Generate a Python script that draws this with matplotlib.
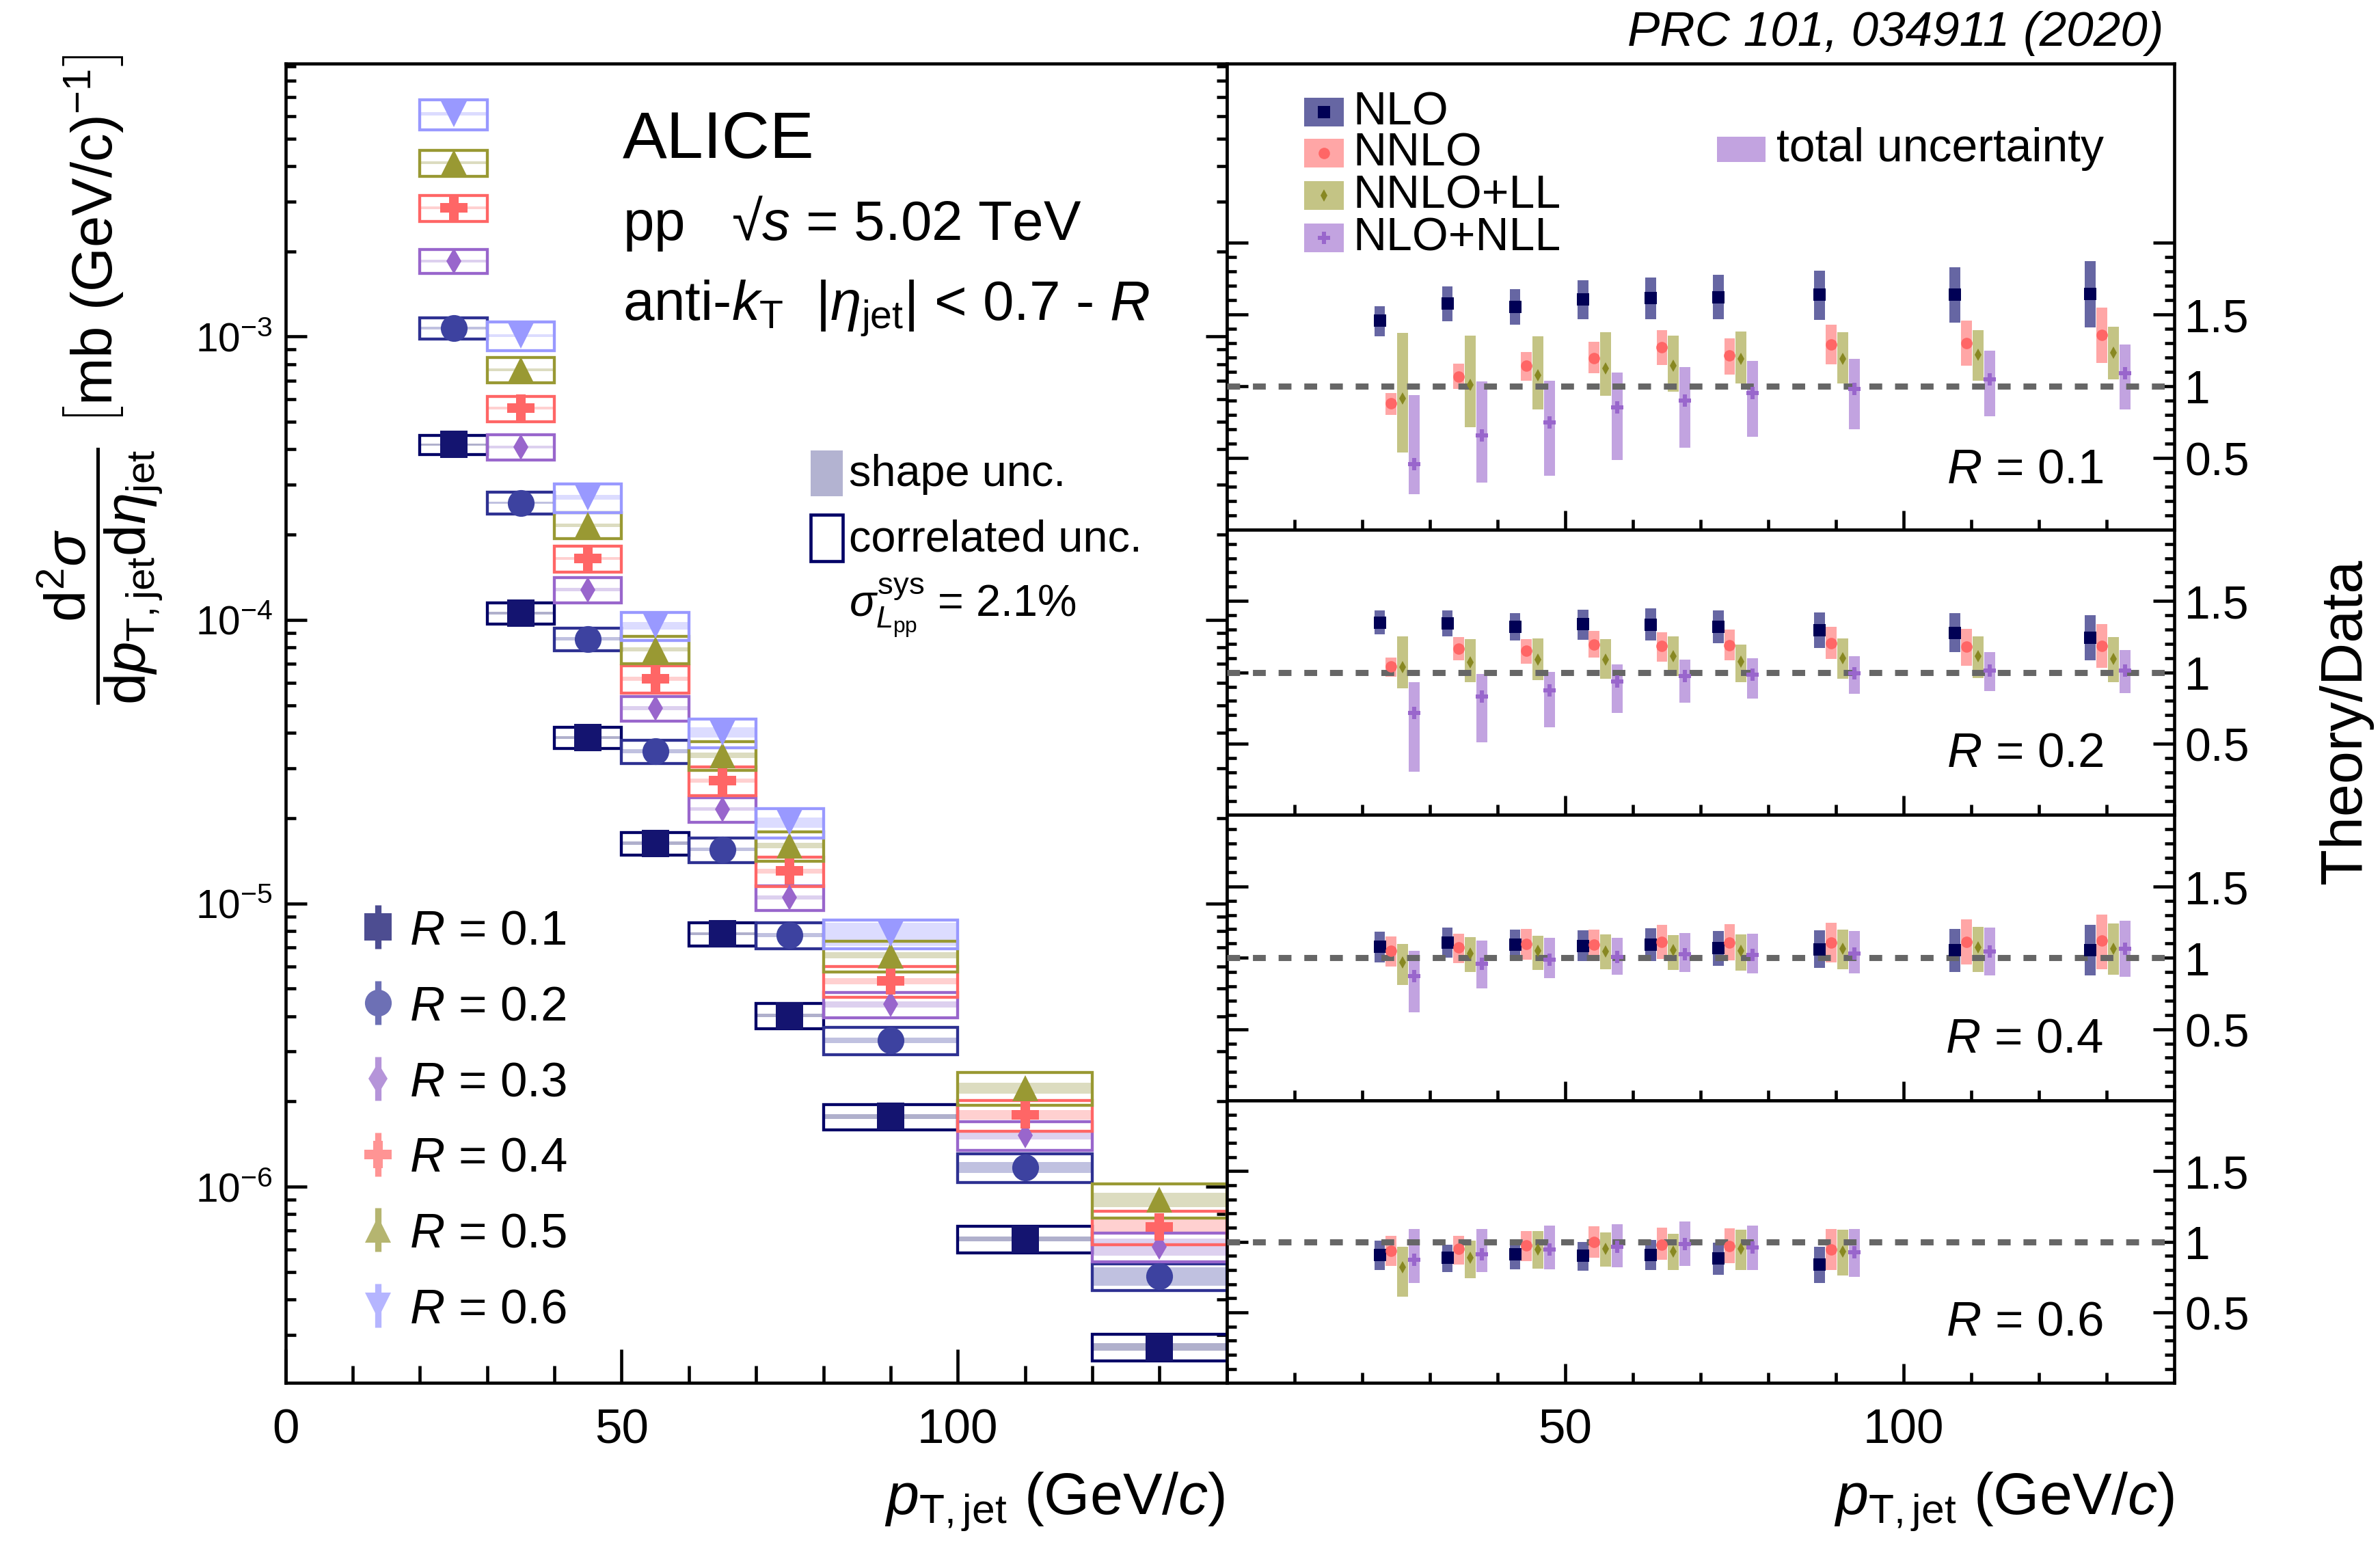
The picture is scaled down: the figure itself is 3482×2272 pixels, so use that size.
import numpy as np
import matplotlib.pyplot as plt
from matplotlib.patches import Rectangle
from matplotlib.lines import Line2D
from matplotlib.ticker import MultipleLocator, LogLocator, NullFormatter

plt.rcParams['font.family'] = ['Liberation Sans', 'DejaVu Sans']
plt.rcParams['mathtext.fontset'] = 'custom'
plt.rcParams['mathtext.rm'] = 'Liberation Sans'
plt.rcParams['mathtext.it'] = 'Liberation Sans:italic'
plt.rcParams['mathtext.bf'] = 'Liberation Sans:bold'
plt.rcParams['mathtext.sf'] = 'Liberation Sans'

# pT,jet bins (GeV/c)
bin_lo = np.array([20, 30, 40, 50, 60, 70, 80, 100, 120])
bin_hi = np.array([30, 40, 50, 60, 70, 80, 100, 120, 140])

# cross sections, mb (GeV/c)^-1, as drawn
xsec_r01 = [4.16e-4, 1.057e-4, 3.85e-5, 1.63e-5, 7.81e-6, 4.02e-6, 1.77e-6, 6.54e-7, 2.72e-7]
xsec_r02 = [1.07e-3, 2.59e-4, 8.58e-5, 3.44e-5, 1.55e-5, 7.73e-6, 3.29e-6, 1.17e-6, 4.83e-7]
xsec_r03 = [1.85e-3, 4.08e-4, 1.28e-4, 4.89e-5, 2.15e-5, 1.05e-5, 4.40e-6, 1.52e-6, 6.14e-7]
xsec_r04 = [2.85e-3, 5.59e-4, 1.65e-4, 6.20e-5, 2.71e-5, 1.30e-5, 5.32e-6, 1.79e-6, 7.22e-7]
xsec_r05 = [4.11e-3, 7.65e-4, 2.16e-4, 7.88e-5, 3.33e-5, 1.60e-5, 6.55e-6, 2.23e-6, 9.0e-7]
xsec_r06 = [6.11e-3, 1.01e-3, 2.71e-4, 9.54e-5, 4.01e-5, 1.93e-5, 7.81e-6]

# relative correlated uncertainty (open boxes)
corr_r01 = [0.079, 0.085, 0.088, 0.09, 0.095, 0.10, 0.104, 0.107, 0.107]
corr_r02 = [0.086, 0.088, 0.09, 0.095, 0.10, 0.105, 0.112, 0.117, 0.109]
corr_r03 = [0.099, 0.102, 0.10, 0.10, 0.10, 0.10, 0.104, 0.117, 0.115]
corr_r04 = [0.104, 0.102, 0.105, 0.11, 0.115, 0.12, 0.125, 0.123, 0.137]
corr_r05 = [0.104, 0.104, 0.105, 0.11, 0.115, 0.12, 0.125, 0.133, 0.14]
corr_r06 = [0.12, 0.116, 0.115, 0.115, 0.115, 0.118, 0.115]

# relative shape uncertainty (filled bands)
shape_r01 = [0.01, 0.01, 0.01, 0.012, 0.012, 0.015, 0.018, 0.02, 0.03]
shape_r02 = [0.01, 0.01, 0.012, 0.015, 0.015, 0.018, 0.021, 0.044, 0.073]
shape_r03 = [0.01, 0.01, 0.012, 0.015, 0.015, 0.018, 0.025, 0.036, 0.069]
shape_r04 = [0.01, 0.01, 0.012, 0.015, 0.015, 0.02, 0.025, 0.039, 0.061]
shape_r05 = [0.012, 0.012, 0.015, 0.015, 0.02, 0.02, 0.026, 0.043, 0.058]
shape_r06 = [0.012, 0.012, 0.018, 0.032, 0.04, 0.04, 0.093]

r_labels = ['0.1', '0.2', '0.3', '0.4', '0.5', '0.6']

# theory / data ratios (central, lower, upper)
nlo_r1 = [1.456, 1.579, 1.554, 1.605, 1.615, 1.622, 1.637, 1.639, 1.643]
nlo_r1_lo = [1.349, 1.451, 1.430, 1.468, 1.468, 1.468, 1.460, 1.441, 1.409]
nlo_r1_hi = [1.558, 1.694, 1.679, 1.741, 1.756, 1.779, 1.805, 1.830, 1.871]
nnlo_r1 = [0.881, 1.068, 1.145, 1.196, 1.270, 1.213, 1.290, 1.300, 1.356]
nnlo_r1_lo = [0.802, 0.979, 1.040, 1.089, 1.147, 1.083, 1.153, 1.143, 1.160]
nnlo_r1_hi = [0.951, 1.155, 1.238, 1.309, 1.390, 1.336, 1.428, 1.456, 1.547]
nnll_r1 = [0.915, 1.009, 1.075, 1.126, 1.143, 1.189, 1.189, 1.219, 1.232]
nnll_r1_lo = [0.536, 0.713, 0.840, 0.932, 0.962, 1.021, 1.021, 1.038, 1.047]
nnll_r1_hi = [1.370, 1.351, 1.349, 1.377, 1.351, 1.381, 1.377, 1.392, 1.417]
nlonll_r1 = [0.455, 0.657, 0.749, 0.853, 0.902, 0.951, 0.983, 1.047, 1.089]
nlonll_r1_lo = [0.248, 0.327, 0.376, 0.487, 0.570, 0.647, 0.702, 0.789, 0.838]
nlonll_r1_hi = [0.936, 1.032, 1.036, 1.094, 1.132, 1.175, 1.192, 1.247, 1.290]

nlo_r2 = [1.349, 1.341, 1.317, 1.337, 1.333, 1.317, 1.294, 1.278, 1.243]
nlo_r2_lo = [1.267, 1.254, 1.225, 1.230, 1.225, 1.202, 1.173, 1.140, 1.083]
nlo_r2_hi = [1.433, 1.433, 1.414, 1.438, 1.448, 1.433, 1.419, 1.414, 1.400]
nnlo_r2 = [1.043, 1.167, 1.151, 1.195, 1.183, 1.190, 1.206, 1.179, 1.187]
nnlo_r2_lo = [0.968, 1.086, 1.062, 1.102, 1.076, 1.086, 1.092, 1.048, 1.033]
nnlo_r2_hi = [1.105, 1.248, 1.233, 1.290, 1.281, 1.300, 1.319, 1.305, 1.338]
nnll_r2 = [1.035, 1.068, 1.087, 1.087, 1.114, 1.075, 1.100, 1.111, 1.095]
nnll_r2_lo = [0.890, 0.929, 0.948, 0.957, 0.976, 0.933, 0.957, 0.962, 0.933]
nnll_r2_hi = [1.252, 1.233, 1.238, 1.233, 1.252, 1.195, 1.238, 1.252, 1.248]
nlonll_r2 = [0.714, 0.833, 0.876, 0.935, 0.976, 0.984, 0.995, 1.013, 1.013]
nlonll_r2_lo = [0.302, 0.510, 0.614, 0.714, 0.786, 0.814, 0.848, 0.871, 0.857]
nlonll_r2_hi = [0.933, 0.990, 1.005, 1.057, 1.090, 1.100, 1.114, 1.143, 1.157]

nlo_r4 = [1.076, 1.108, 1.092, 1.084, 1.090, 1.068, 1.060, 1.052, 1.055]
nlo_r4_lo = [0.970, 1.003, 1.003, 0.975, 0.975, 0.946, 0.927, 0.903, 0.875]
nlo_r4_hi = [1.184, 1.212, 1.198, 1.193, 1.207, 1.188, 1.193, 1.203, 1.231]
nnlo_r4 = [1.047, 1.071, 1.098, 1.092, 1.111, 1.106, 1.106, 1.111, 1.119]
nnlo_r4_lo = [0.941, 0.965, 0.989, 0.975, 0.994, 0.984, 0.970, 0.951, 0.922]
nnlo_r4_hi = [1.150, 1.169, 1.203, 1.198, 1.231, 1.236, 1.245, 1.269, 1.302]
nnll_r4 = [0.968, 1.032, 1.047, 1.044, 1.052, 1.051, 1.063, 1.071, 1.063]
nnll_r4_lo = [0.809, 0.899, 0.913, 0.922, 0.913, 0.908, 0.918, 0.903, 0.880]
nnll_r4_hi = [1.098, 1.146, 1.155, 1.165, 1.160, 1.165, 1.198, 1.217, 1.241]
nlonll_r4 = [0.870, 0.960, 0.987, 1.008, 1.024, 1.019, 1.032, 1.043, 1.063]
nlonll_r4_lo = [0.619, 0.785, 0.856, 0.880, 0.903, 0.889, 0.889, 0.875, 0.866]
nlonll_r4_hi = [1.051, 1.122, 1.141, 1.141, 1.174, 1.169, 1.188, 1.212, 1.259]

nlo_r6 = [0.905, 0.886, 0.910, 0.900, 0.905, 0.881, 0.837]
nlo_r6_lo = [0.802, 0.787, 0.806, 0.797, 0.802, 0.768, 0.706]
nlo_r6_hi = [1.006, 0.978, 1.016, 0.997, 1.011, 0.992, 0.963]
nnlo_r6 = [0.933, 0.952, 0.973, 1.000, 0.979, 0.968, 0.944]
nnlo_r6_lo = [0.830, 0.840, 0.863, 0.887, 0.873, 0.849, 0.802]
nnlo_r6_hi = [1.044, 1.044, 1.078, 1.111, 1.102, 1.097, 1.092]
nnll_r6 = [0.821, 0.886, 0.944, 0.949, 0.929, 0.948, 0.929]
nnll_r6_lo = [0.611, 0.740, 0.811, 0.825, 0.802, 0.802, 0.763]
nnll_r6_hi = [0.963, 1.006, 1.078, 1.068, 1.054, 1.083, 1.087]
nlonll_r6 = [0.873, 0.910, 0.944, 0.965, 0.984, 0.960, 0.924]
nlonll_r6_lo = [0.706, 0.783, 0.806, 0.821, 0.830, 0.802, 0.749]
nlonll_r6_hi = [1.092, 1.092, 1.116, 1.125, 1.144, 1.116, 1.092]

theory_names = ['NLO', 'NNLO', 'NNLO+LL', 'NLO+NLL']

# ---------------- styles ----------------
mk_cols = ['#141470', '#3d42a0', '#9966cc', '#ff6666', '#999933', '#9999ff']
box_cols = ['#000066', '#2e3192', '#9966cc', '#ff6666', '#999933', '#9999ff']
shape_cols = ['#b0b0cc', '#c0c1e0', '#ddd0ef', '#ffd0d0', '#dcdcc0', '#dcdcff']
leg_cols = ['#4d4d91', '#6d70b5', '#b594d9', '#ff9494', '#b5b570', '#b5b5ff']
mks = ['s', 'o', 'd', 'P', '^', 'v']
mss = [12.8, 12.7, 8.6, 13, 12, 12]
leg_mss = [12.8, 12.7, 10.5, 13, 12, 12]

band_cols = ['#6666a3', '#ffa6a6', '#c4c485', '#c2a3e0']
th_mk_cols = ['#000055', '#ff6666', '#888822', '#9966cc']
th_mks = ['s', 'o', 'd', 'P']
th_mss = [5.8, 5.4, 4.2, 6.0]
th_off = [-2.4, -0.7, 1.0, 2.7]
band_w = 1.6

W, H = 1568.0, 1023.0
fig = plt.figure(figsize=(15.68, 10.23), dpi=222.13)


def fx(px):
    return px / W


def fy(py):
    return 1 - py / H


# ---------------- left panel ----------------
axL = fig.add_axes([fx(188), fy(911), 620 / W, 869 / H])
xsecs = [xsec_r01, xsec_r02, xsec_r03, xsec_r04, xsec_r05, xsec_r06]
corrs = [corr_r01, corr_r02, corr_r03, corr_r04, corr_r05, corr_r06]
shapes = [shape_r01, shape_r02, shape_r03, shape_r04, shape_r05, shape_r06]

for i in range(6):
    y = np.array(xsecs[i])
    n = len(y)
    cen = (bin_lo[:n] + bin_hi[:n]) / 2
    wid = bin_hi[:n] - bin_lo[:n]
    c = np.array(corrs[i])
    s = np.array(shapes[i])
    axL.bar(cen, y * 2 * s, bottom=y * (1 - s), width=wid, color=shape_cols[i],
            linewidth=0, zorder=2)
    axL.bar(cen, y * 2 * c, bottom=y * (1 - c), width=wid, fill=False,
            edgecolor=box_cols[i], linewidth=1.4, zorder=3)
    axL.plot(cen, y, ls='none', marker=mks[i], ms=mss[i], color=mk_cols[i],
             mec=mk_cols[i], mew=0, zorder=5)

axL.set_yscale('log')
axL.set_xlim(0, 140)
axL.set_ylim(2.03e-7, 9.2e-3)
axL.xaxis.set_major_locator(MultipleLocator(50))
axL.xaxis.set_minor_locator(MultipleLocator(10))
axL.yaxis.set_major_locator(LogLocator(base=10))
axL.yaxis.set_minor_locator(LogLocator(base=10, subs=np.arange(2, 10)))
axL.yaxis.set_minor_formatter(NullFormatter())
axL.tick_params(which='both', direction='in', top=False, right=True, width=1.5)
axL.tick_params(axis='x', which='major', length=16, labelsize=23, pad=12)
axL.tick_params(axis='x', which='minor', length=8)
axL.tick_params(axis='y', which='major', length=10, labelsize=19, pad=6)
axL.tick_params(axis='y', which='minor', length=5)
for sp in axL.spines.values():
    sp.set_linewidth(1.5)

# left legend
handles = []
for i in range(6):
    stub = Line2D([], [], ls='none', marker='|', ms=21, mew=3, color=leg_cols[i])
    m = Line2D([], [], ls='none', marker=mks[i], ms=leg_mss[i], color=leg_cols[i], mew=0)
    handles.append((stub, m))
axL.legend(handles, [r'$R$ = ' + r for r in r_labels], loc='upper left',
           bbox_to_anchor=(0.075, 0.359), frameon=False, fontsize=23,
           labelspacing=0.63, handlelength=0.9, handletextpad=0.2,
           borderpad=0, borderaxespad=0)

# left texts
fig.text(fx(410), fy(104), 'ALICE', fontsize=31.5, va='baseline')
fig.text(fx(410), fy(158), 'pp   \u221a$s$ = 5.02 TeV', fontsize=26.5, va='baseline')
fig.text(fx(410), fy(211), r'anti-$k_{\mathrm{T}}$  $|\eta_{\mathrm{jet}}|$ < 0.7 - $R$',
         fontsize=26.5, va='baseline')

fig.add_artist(Rectangle((fx(534), fy(327)), 21 / W, 30 / H, transform=fig.transFigure,
                         facecolor='#b3b3d1', edgecolor='none'))
fig.add_artist(Rectangle((fx(534), fy(370)), 21 / W, 31 / H, transform=fig.transFigure,
                         facecolor='none', edgecolor='#000066', linewidth=1.5))
fig.text(fx(559), fy(320), 'shape unc.', fontsize=21, va='baseline')
fig.text(fx(559), fy(363), 'correlated unc.', fontsize=21, va='baseline')
fig.text(fx(559), fy(406), r'$\sigma^{\mathrm{sys}}_{L_{\mathrm{pp}}}$ = 2.1%', fontsize=21,
         va='baseline')

# y label
fig.text(fx(66), fy(250),
         r'$\dfrac{\mathrm{d}^{2}\sigma}{\mathrm{d}p_{\mathrm{T,jet}}\mathrm{d}\eta_{\mathrm{jet}}}'
         r'\ \left[\mathrm{mb\ (GeV/c)^{-1}}\right]$',
         rotation=90, ha='center', va='center', fontsize=27)

# ---------------- right panels ----------------
panels = [
    ('0.1', 42, 349, 3.25,
     [(nlo_r1, nlo_r1_lo, nlo_r1_hi), (nnlo_r1, nnlo_r1_lo, nnlo_r1_hi),
      (nnll_r1, nnll_r1_lo, nnll_r1_hi), (nlonll_r1, nlonll_r1_lo, nlonll_r1_hi)]),
    ('0.2', 349, 537, 2.0,
     [(nlo_r2, nlo_r2_lo, nlo_r2_hi), (nnlo_r2, nnlo_r2_lo, nnlo_r2_hi),
      (nnll_r2, nnll_r2_lo, nnll_r2_hi), (nlonll_r2, nlonll_r2_lo, nlonll_r2_hi)]),
    ('0.4', 537, 725, 2.0,
     [(nlo_r4, nlo_r4_lo, nlo_r4_hi), (nnlo_r4, nnlo_r4_lo, nnlo_r4_hi),
      (nnll_r4, nnll_r4_lo, nnll_r4_hi), (nlonll_r4, nlonll_r4_lo, nlonll_r4_hi)]),
    ('0.6', 725, 911, 2.0,
     [(nlo_r6, nlo_r6_lo, nlo_r6_hi), (nnlo_r6, nnlo_r6_lo, nnlo_r6_hi),
      (nnll_r6, nnll_r6_lo, nnll_r6_hi), (nlonll_r6, nlonll_r6_lo, nlonll_r6_hi)]),
]

cen_all = (bin_lo + bin_hi) / 2
for pi, (rlab, top, bot, ymax, series) in enumerate(panels):
    ax = fig.add_axes([fx(808), fy(bot), 624 / W, (bot - top) / H])
    for k, (c, lo, hi) in enumerate(series):
        n = len(c)
        x = cen_all[:n] + th_off[k]
        lo = np.array(lo)
        hi = np.array(hi)
        ax.bar(x, hi - lo, bottom=lo, width=band_w, color=band_cols[k], linewidth=0, zorder=2)
        ax.plot(x, c, ls='none', marker=th_mks[k], ms=th_mss[k], color=th_mk_cols[k],
                mew=0, zorder=4)
    ax.axhline(1, color='#666666', lw=2.9, ls=(0, (2.1, 2.1)), zorder=3)
    ax.set_xlim(0, 140)
    ax.set_ylim(0, ymax)
    if ymax > 2:
        ax.set_yticks([0.5, 1, 1.5, 2.0], ['0.5', '1', '1.5', ''])
    else:
        ax.set_yticks([0.5, 1, 1.5], ['0.5', '1', '1.5'])
    ax.set_yticks([v for v in np.arange(0.1, 2.0, 0.1) if abs(v * 2 - round(v * 2)) > 1e-6],
                  minor=True)
    ax.set_xticks([0, 50, 100], ['', '50', '100'])
    ax.xaxis.set_minor_locator(MultipleLocator(10))
    ax.tick_params(which='both', direction='in', left=True, right=True, top=False,
                   labelleft=False, labelright=True, width=1.5)
    ax.tick_params(axis='y', which='major', length=10, labelsize=22, pad=5)
    ax.tick_params(axis='y', which='minor', length=4.5)
    ax.tick_params(axis='x', which='major', length=9, labelsize=23, pad=12)
    ax.tick_params(axis='x', which='minor', length=5)
    if pi < 3:
        ax.tick_params(axis='x', labelbottom=False)
    for sp in ax.spines.values():
        sp.set_linewidth(1.5)
    ypos = 0.127 if pi == 0 else 0.213
    ax.text(0.925, ypos, r'$R$ = ' + rlab, transform=ax.transAxes, ha='right', va='center',
            fontsize=23)

# right legend
row_y = [74, 101, 129, 157]
for k in range(4):
    fig.add_artist(Rectangle((fx(859), fy(row_y[k] + 9.5)), 26 / W, 19 / H,
                             transform=fig.transFigure, facecolor=band_cols[k],
                             edgecolor='none'))
    fig.add_artist(Line2D([fx(872)], [fy(row_y[k])], transform=fig.transFigure, ls='none',
                          marker=th_mks[k], ms=th_mss[k], color=th_mk_cols[k], mew=0))
    fig.text(fx(891), fy(row_y[k]), theory_names[k], fontsize=22, va='center')
fig.add_artist(Rectangle((fx(1131), fy(107)), 32 / W, 17 / H, transform=fig.transFigure,
                         facecolor=band_cols[3], edgecolor='none'))
fig.text(fx(1170), fy(98), 'total uncertainty', fontsize=22, va='center')

# axis titles and header
xlab = r'$p_{\mathrm{T,jet}}$ (GeV/$c$)'
fig.text(fx(807), fy(997), xlab, fontsize=28, ha='right', va='baseline')
fig.text(fx(1432), fy(997), xlab, fontsize=28, ha='right', va='baseline')
fig.text(fx(1545), fy(475), 'Theory/Data', fontsize=28, rotation=90, ha='center', va='center')
fig.text(fx(1425), fy(22), 'PRC 101, 034911 (2020)', fontsize=23, style='italic',
         ha='right', va='center')

fig.savefig('out.png', dpi=222.13)
